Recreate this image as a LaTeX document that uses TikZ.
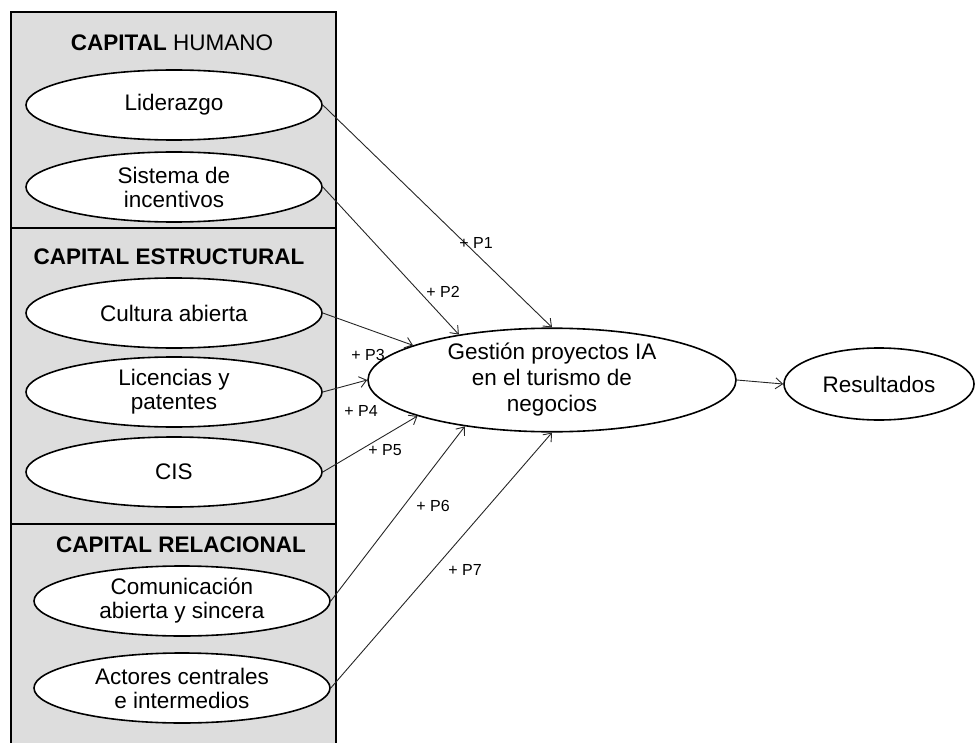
\documentclass[tikz,border=0pt]{standalone}
\usepackage{fontspec}
\setmainfont{Liberation Sans}
\usetikzlibrary{shapes.geometric,arrows.meta}
\definecolor{boxgray}{RGB}{221,221,221}
\begin{document}
\begin{tikzpicture}[x=1pt,y=-1pt,
  sec/.style={draw=black,line width=1.6pt,fill=boxgray,rectangle,inner sep=0pt},
  oval/.style={draw=black,line width=1.6pt,fill=white,ellipse,inner sep=0pt,
    minimum width=296,minimum height=70,align=center,
    font=\fontsize{22.5}{24}\selectfont},
  ttl/.style={font=\fontsize{22.5}{24}\selectfont,inner sep=0pt},
  lbl/.style={font=\fontsize{16}{18}\selectfont,inner sep=0pt},
  arr/.style={draw=black!85,line width=0.9pt,-{Straight Barb[length=7pt,width=11pt]}}]
\useasboundingbox (0,0) rectangle (976,743);
% section boxes
\node[sec,minimum width=325,minimum height=216] (hum) at (173.5,120) {};
\node[sec,minimum width=325,minimum height=296] (est) at (173.5,376) {};
\node[sec,minimum width=325,minimum height=236] (rel) at (173.5,642) {};
% titles
\node[ttl] (t1) at (172,43) {\textbf{CAPITAL} HUMANO};
\node[ttl] (t2) at (169,257) {\textbf{CAPITAL ESTRUCTURAL}};
\node[ttl] (t3) at (181,545) {\textbf{CAPITAL RELACIONAL}};
% ovals
\node[oval] (lid) at (174,105) {Liderazgo};
\node[oval] (sis) at (174,187) {Sistema de\\incentivos};
\node[oval] (cul) at (174,313) {Cultura abierta};
\node[oval] (lic) at (174,392) {Licencias y\\patentes};
\node[oval] (cis) at (174,472) {CIS};
\node[oval] (com) at (182,601) {Comunicación\\abierta y sincera};
\node[oval] (act) at (182,688) {Actores centrales\\e intermedios};
\node[oval,minimum width=368,minimum height=96,font=\fontsize{22.5}{26}\selectfont] (cen) at (552,380) {Gestión proyectos IA\\en el turismo de\\negocios};
\node[oval,minimum width=190,minimum height=72] (res) at (879,384) {Resultados};
% connectors
\draw[arr] (lid.east) -- (cen.90);
\draw[arr] (sis.east) -- (cen.154);
\draw[arr] (cul.east) -- (cen.166);
\draw[arr] (lic.east) -- (cen.180);
\draw[arr] (cis.east) -- (cen.195);
\draw[arr] (com.east) -- (cen.208);
\draw[arr] (act.east) -- (cen.270);
\draw[arr] (cen.east) -- (res.west);
% labels
\node[lbl] (p1) at (476,243) {+ P1};
\node[lbl] (p2) at (443,292) {+ P2};
\node[lbl] (p3) at (368,355) {+ P3};
\node[lbl] (p4) at (361,411) {+ P4};
\node[lbl] (p5) at (385,450) {+ P5};
\node[lbl] (p6) at (433,506) {+ P6};
\node[lbl] (p7) at (465,570) {+ P7};
\end{tikzpicture}
\end{document}
